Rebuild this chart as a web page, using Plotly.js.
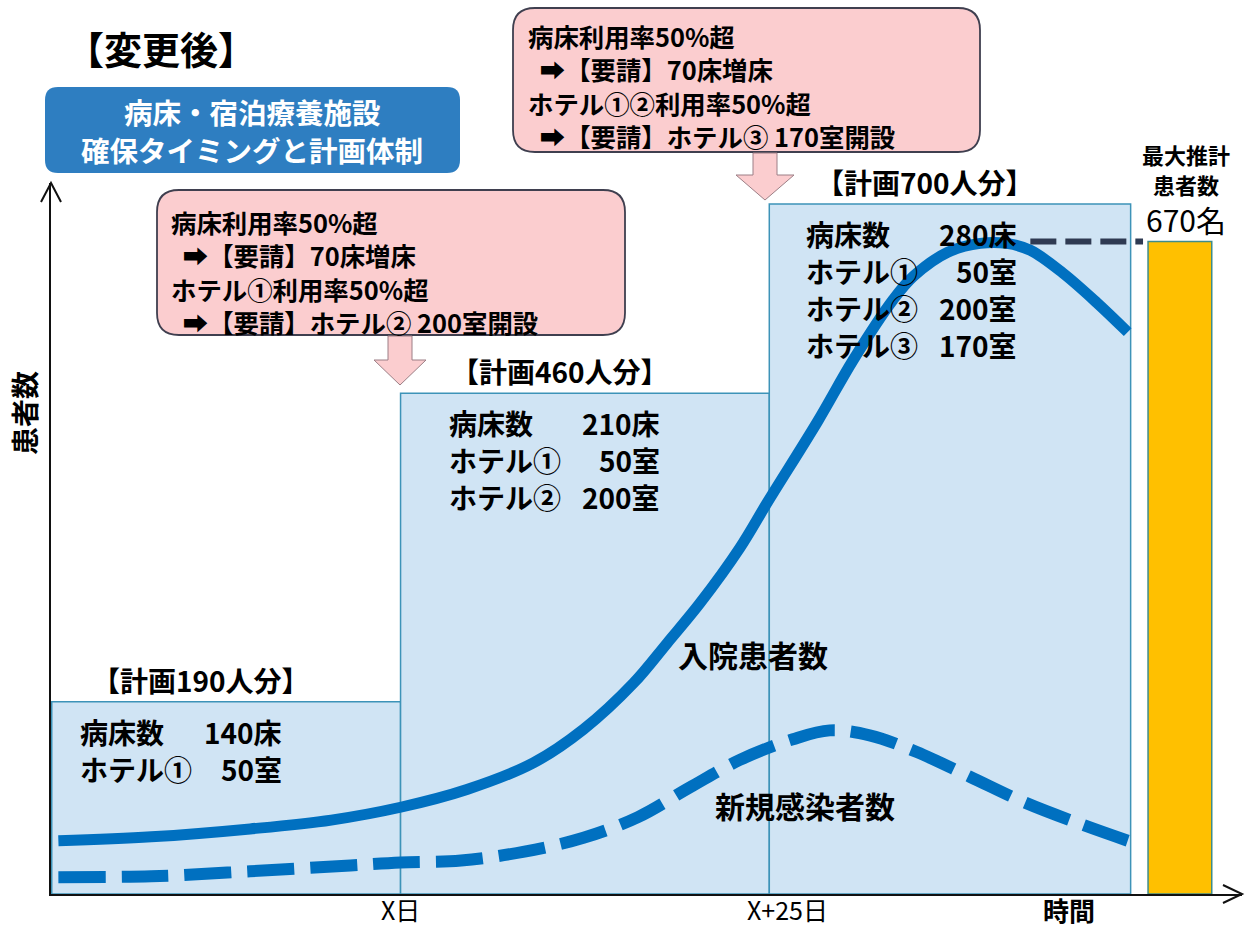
<!DOCTYPE html>
<html>
<head>
<meta charset="utf-8">
<script src="https://cdn.plot.ly/plotly-3.0.1.min.js"></script>
<style>html,body{margin:0;padding:0;background:#fff;}#chart{width:1246px;height:928px;}</style>
</head>
<body>
<div id="chart"></div>
<script>
// ---------- data (days relative to "X日", patients) ----------
const tickDays = [0, 25, 45.3];
const tickLabels = ['X日', 'X+25日', '時間'];

const planStarts = [-23.65, 0, 25];
const planEnds = [0, 25, 49.5];
const planLevels = [195, 508, 700];          // drawn heights of the plan steps
const planCapacity = [190, 460, 700];        // labelled capacity
const planFacilities = [
  ['病床数', 'ホテル①'],
  ['病床数', 'ホテル①', 'ホテル②'],
  ['病床数', 'ホテル①', 'ホテル②', 'ホテル③']
];
const planCounts = [
  ['140床', '50室'],
  ['210床', '50室', '200室'],
  ['280床', '50室', '200室', '170室']
];

const inpatientDays = [-23.2, -16.9, -10.2, -4.7, 0, 4.5, 9.0, 12.4, 15.8, 18.1, 20.3, 23.0, 24.9, 28.3, 30.7, 33.4, 34.8, 37.1, 39.3, 41.1, 42.7, 44.9, 47.2, 49.3];
const inpatients = [54, 58, 66, 75, 88, 106, 133, 167, 214, 255, 295, 351, 398, 480, 542, 603, 627, 651, 660, 660, 653, 630, 600, 570];

const newCaseDays = [-23.2, -16.9, -10.2, -3.4, 0, 4.1, 8.4, 12.4, 16.1, 19.6, 23.0, 26.6, 29.1, 31.8, 35.0, 38.6, 42.3, 46.1, 49.3];
const newCases = [17, 18, 23, 29, 32, 34, 43, 57, 78, 108, 136, 157, 166, 161, 144, 119, 93, 71, 54];

const maxBarStart = 50.68, maxBarEnd = 55.0;
const maxEstimate = 670;        // labelled
const maxBarLevel = 662;        // drawn height
const connectorDays = [42.7, 50.34];

const curveLabels = [{text: '入院患者数', day: 23.9, value: 243}, {text: '新規感染者数', day: 27.4, value: 90}];

const request1 = ['病床利用率50%超', ' ➡【要請】70床増床', 'ホテル①利用率50%超', ' ➡【要請】ホテル② 200室開設'];
const request2 = ['病床利用率50%超', ' ➡【要請】70床増床', 'ホテル①②利用率50%超', ' ➡【要請】ホテル③ 170室開設'];

// ---------- layout geometry helpers (pixels -> paper) ----------
const L = 51, R = 1242, T = 183, B = 894;
const PX = p => (p - L) / (R - L);
const PY = p => (B - p) / (B - T);
function rrect(x0, y0, x1, y1, r) {
  const a = PX(x0), b = PX(x1), top = PY(y0), bot = PY(y1);
  const rx = r / (R - L), ry = r / (B - T);
  return `M ${a + rx},${top} L ${b - rx},${top} Q ${b},${top} ${b},${top - ry} L ${b},${bot + ry} Q ${b},${bot} ${b - rx},${bot} L ${a + rx},${bot} Q ${a},${bot} ${a},${bot + ry} L ${a},${top - ry} Q ${a},${top} ${a + rx},${top} Z`;
}
function downArrow(cx, yTop, yBase, yTip, sw, hw) {
  return `M ${PX(cx - sw)},${PY(yTop)} L ${PX(cx + sw)},${PY(yTop)} L ${PX(cx + sw)},${PY(yBase)} L ${PX(cx + hw)},${PY(yBase)} L ${PX(cx)},${PY(yTip)} L ${PX(cx - hw)},${PY(yBase)} L ${PX(cx - sw)},${PY(yBase)} Z`;
}

const FONT = '"Noto Sans CJK JP", "Noto Sans", sans-serif';
const BLUE = '#0070C0';
const PINK = '#FBCDCF';

// ---------- traces ----------
const traces = [
  {
    type: 'bar',
    x: planStarts.map((s, i) => (s + planEnds[i]) / 2),
    width: planStarts.map((s, i) => planEnds[i] - s),
    y: planLevels,
    marker: {color: '#D0E4F4', line: {color: '#3D93B8', width: 1.5}},
    hoverinfo: 'skip'
  },
  {
    type: 'bar',
    x: [(maxBarStart + maxBarEnd) / 2],
    width: [maxBarEnd - maxBarStart],
    y: [maxBarLevel],
    marker: {color: '#FFC000', line: {color: '#3F8C8A', width: 1.5}},
    hoverinfo: 'skip'
  },
  {
    type: 'scatter', mode: 'lines',
    x: newCaseDays, y: newCases,
    line: {color: BLUE, width: 12, dash: '47px,16px', shape: 'spline', smoothing: 1},
    hoverinfo: 'skip'
  },
  {
    type: 'scatter', mode: 'lines',
    x: inpatientDays, y: inpatients,
    line: {color: BLUE, width: 11, shape: 'spline', smoothing: 1},
    hoverinfo: 'skip'
  },
  {
    type: 'scatter', mode: 'lines',
    x: connectorDays, y: [maxBarLevel, maxBarLevel],
    line: {color: '#2F3A52', width: 6, dash: '26px,9px'},
    hoverinfo: 'skip'
  }
];

// ---------- annotations ----------
const ann = [];
const txt = (o) => Object.assign({showarrow: false, xanchor: 'center', yanchor: 'middle', borderpad: 0,
  font: {family: FONT, size: 24, color: '#000', weight: 'bold'}}, o);
const F = (size, weight, color) => ({family: FONT, size: size, color: color || '#000', weight: weight || 'bold'});

// title
ann.push(txt({xref: 'paper', yref: 'paper', x: PX(161), y: PY(47), text: '【変更後】', font: F(38)}));
// blue box text
ann.push(txt({xref: 'paper', yref: 'paper', x: PX(252), y: PY(112), text: '病床・宿泊療養施設', font: F(28.5, 'bold', '#fff')}));
ann.push(txt({xref: 'paper', yref: 'paper', x: PX(252), y: PY(150), text: '確保タイミングと計画体制', font: F(28.5, 'bold', '#fff')}));

// request boxes text
const reqLine = (lines, x0, y0) => lines.forEach((t, j) => ann.push(txt({
  xref: 'paper', yref: 'paper', xanchor: 'left', x: PX(x0 + (j % 2 ? 6 : 0)), y: PY(y0 + 33.3 * j),
  text: t, font: F(25.4)
})));
reqLine(request1, 170, 222);
reqLine(request2, 527, 36);

// plan labels and contents
planStarts.forEach((s, i) => {
  ann.push(txt({xref: 'x', yref: 'y', x: (s + planEnds[i]) / 2, y: planLevels[i], yshift: 22, xshift: -25,
    text: '【計画' + planCapacity[i] + '人分】', font: F(28)}));
  const leftPad = [27, 47, 36][i], rightPad = [231, 260, 249][i];
  planFacilities[i].forEach((f, j) => {
    ann.push(txt({xref: 'x', yref: 'y', x: s, y: planLevels[i], xanchor: 'left', xshift: leftPad, yshift: -(30 + 37 * j),
      text: f, font: F(28)}));
    ann.push(txt({xref: 'x', yref: 'y', x: s, y: planLevels[i], xanchor: 'right', xshift: rightPad, yshift: -(30 + 37 * j),
      text: planCounts[i][j], font: F(28)}));
  });
});

// curve labels
curveLabels.forEach(c => ann.push(txt({xref: 'x', yref: 'y', x: c.day, y: c.value, text: c.text, font: F(30)})));

// max bar labels
const barMid = (maxBarStart + maxBarEnd) / 2;
ann.push(txt({xref: 'x', yref: 'y', x: barMid, y: maxBarLevel, xshift: 6, yshift: 22, text: maxEstimate + '名', font: F(30, 'normal')}));
ann.push(txt({xref: 'x', yref: 'y', x: barMid, y: maxBarLevel, xshift: 6, yshift: 57, text: '患者数', font: F(22)}));
ann.push(txt({xref: 'x', yref: 'y', x: barMid, y: maxBarLevel, xshift: 6, yshift: 87, text: '最大推計', font: F(22)}));

// axis tick labels
ann.push(txt({xref: 'x', yref: 'paper', x: tickDays[0], y: PY(909), text: tickLabels[0], font: F(25, 'normal')}));
ann.push(txt({xref: 'x', yref: 'paper', x: tickDays[1], y: PY(909), xshift: 18, text: tickLabels[1], font: F(25, 'normal')}));
ann.push(txt({xref: 'x', yref: 'paper', x: tickDays[2], y: PY(909), text: tickLabels[2], font: F(26)}));
// y title
ann.push(txt({xref: 'paper', yref: 'paper', x: PX(24), y: PY(413), textangle: -90, text: '患者数', font: F(28)}));

// ---------- shapes ----------
const shapes = [
  {type: 'path', xref: 'paper', yref: 'paper', path: rrect(45, 87, 460, 173, 13), fillcolor: '#2E7EC1', line: {width: 0}, layer: 'above'},
  {type: 'path', xref: 'paper', yref: 'paper', path: rrect(157, 190, 625, 335, 22), fillcolor: PINK, line: {color: '#3F3F4F', width: 1.8}, layer: 'above'},
  {type: 'path', xref: 'paper', yref: 'paper', path: rrect(513, 8, 980, 152, 22), fillcolor: PINK, line: {color: '#3F3F4F', width: 1.8}, layer: 'above'},
  {type: 'path', xref: 'paper', yref: 'paper', path: downArrow(400, 336, 360, 385, 12, 26), fillcolor: PINK, line: {color: '#9C7F86', width: 1}, layer: 'above'},
  {type: 'path', xref: 'paper', yref: 'paper', path: downArrow(765, 153, 175, 200, 12, 29), fillcolor: PINK, line: {color: '#9C7F86', width: 1}, layer: 'above'},
  // axis arrowheads
  {type: 'path', xref: 'paper', yref: 'paper', xsizemode: 'pixel', ysizemode: 'pixel', xanchor: 0, yanchor: 1,
    path: 'M -10,-19 L 0,0 L 10,-19', line: {color: '#111', width: 2}, layer: 'above'},
  {type: 'path', xref: 'paper', yref: 'paper', xsizemode: 'pixel', ysizemode: 'pixel', xanchor: 1, yanchor: 0,
    path: 'M -19,9 L 0,0 L -19,-9', line: {color: '#111', width: 2}, layer: 'above'}
];

const layout = {
  width: 1246, height: 928,
  margin: {l: L, r: 1246 - R, t: T, b: 928 - B},
  paper_bgcolor: '#fff', plot_bgcolor: '#fff',
  showlegend: false,
  barmode: 'overlay',
  xaxis: {range: [-23.7, 57.05], showgrid: false, zeroline: false, showline: true, linecolor: '#111', linewidth: 2,
    ticks: '', showticklabels: false, fixedrange: true},
  yaxis: {range: [0, 721.3], showgrid: false, zeroline: false, showline: true, linecolor: '#111', linewidth: 2,
    ticks: '', showticklabels: false, fixedrange: true},
  annotations: ann,
  shapes: shapes,
  font: {family: FONT}
};

Plotly.newPlot('chart', traces, layout, {displayModeBar: false, staticPlot: true});
</script>
</body>
</html>
